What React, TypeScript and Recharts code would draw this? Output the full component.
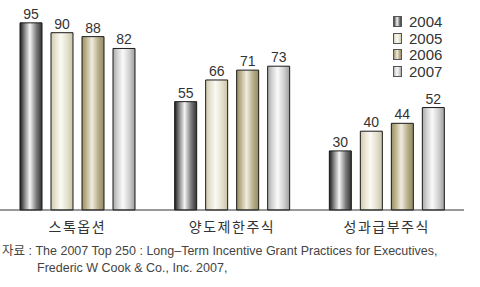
import { Bar, BarChart, LabelList, XAxis, YAxis } from 'recharts'

const categories = ['스톡옵션', '양도제한주식', '성과급부주식']
const years = ['2004', '2005', '2006', '2007']
const values2004 = [95, 55, 30]
const values2005 = [90, 66, 40]
const values2006 = [88, 71, 44]
const values2007 = [82, 73, 52]

const data = categories.map((name, i) => ({
  name,
  y2004: values2004[i],
  y2005: values2005[i],
  y2006: values2006[i],
  y2007: values2007[i],
}))

// left edge, highlight, right edge for each year's cylinder look
const gradients = [
  { id: 'g2004', stops: ['#1c1c1c', '#8a8a8a', '#f4f4f4', '#7a7a7a', '#333333'] },
  { id: 'g2005', stops: ['#cfc9ae', '#e8e4d2', '#fbfaf4', '#e4e0cc', '#c9c3a8'] },
  { id: 'g2006', stops: ['#988d66', '#c2b995', '#f0ece0', '#b6ad88', '#958a64'] },
  { id: 'g2007', stops: ['#a9a9a9', '#d6d6d6', '#fafafa', '#cfcfcf', '#9c9c9c'] },
]

const font = '"Liberation Sans", "Noto Sans CJK KR", sans-serif'

export default function App() {
  return (
    <div style={{ position: 'absolute', left: 0, top: 0, width: 480, height: 287, background: '#fff' }}>
      <BarChart
        width={480}
        height={287}
        data={data}
        margin={{ top: 13, right: 16, left: 0, bottom: 47 }}
        barSize={22}
        barGap={9}
        barCategoryGap={20}
      >
        <defs>
          {gradients.map(g => (
            <linearGradient key={g.id} id={g.id} x1="0" y1="0" x2="1" y2="0">
              <stop offset="0%" stopColor={g.stops[0]} />
              <stop offset="22%" stopColor={g.stops[1]} />
              <stop offset="45%" stopColor={g.stops[2]} />
              <stop offset="75%" stopColor={g.stops[3]} />
              <stop offset="100%" stopColor={g.stops[4]} />
            </linearGradient>
          ))}
        </defs>
        <XAxis
          dataKey="name"
          height={30}
          tickLine={false}
          axisLine={{ stroke: '#333', strokeWidth: 1 }}
          tick={{ fill: '#333', fontSize: 14, fontFamily: font, letterSpacing: 1.5 }}
          tickMargin={6}
        />
        <YAxis hide domain={[0, 100]} />
        {['y2004', 'y2005', 'y2006', 'y2007'].map((key, i) => (
          <Bar
            key={key}
            dataKey={key}
            name={years[i]}
            fill={`url(#${gradients[i].id})`}
            stroke="#1a1a1a"
            strokeWidth={1}
            isAnimationActive={false}
          >
            <LabelList
              dataKey={key}
              position="top"
              offset={4}
              style={{ fill: '#333', fontSize: 14, fontFamily: font }}
            />
          </Bar>
        ))}
      </BarChart>
      <div
        style={{
          position: 'absolute',
          left: 393,
          top: 14,
          fontFamily: font,
          fontSize: 15,
          color: '#333',
          lineHeight: '16.5px',
        }}
      >
        {years.map((y, i) => (
          <div key={y} style={{ display: 'flex', alignItems: 'center' }}>
            <svg width={10} height={12} style={{ marginRight: 6 }}>
              <rect x={0.5} y={0.5} width={8} height={10} fill={`url(#${gradients[i].id})`} stroke="#555" strokeWidth={1} />
            </svg>
            <span>{y}</span>
          </div>
        ))}
      </div>
      <div
        style={{
          position: 'absolute',
          left: 2,
          top: 243,
          fontFamily: font,
          fontSize: 12.5,
          color: '#444',
          lineHeight: '17px',
          whiteSpace: 'nowrap',
        }}
      >
        <div>자료 : The 2007 Top 250 : Long–Term Incentive Grant Practices for Executives,</div>
        <div style={{ paddingLeft: 35 }}>Frederic W Cook &amp; Co., Inc. 2007,</div>
      </div>
    </div>
  )
}
